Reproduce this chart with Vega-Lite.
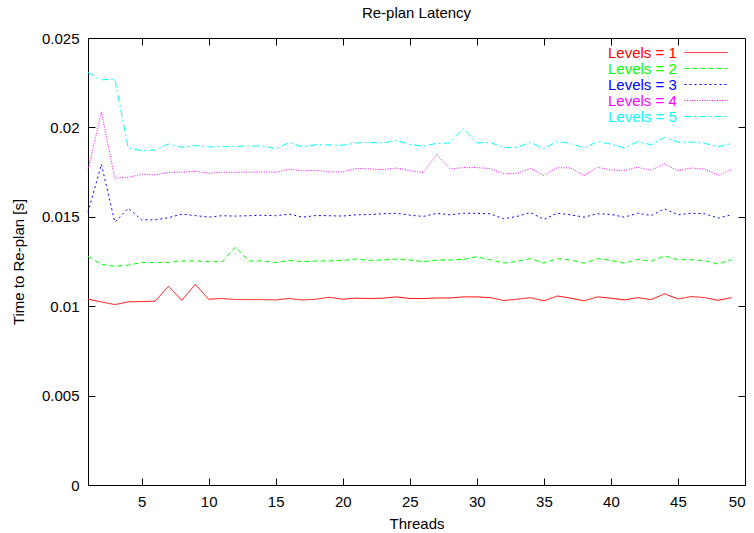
{
  "$schema": "https://vega.github.io/schema/vega-lite/v6.json",
  "width": 657,
  "height": 447,
  "autosize": "none",
  "padding": {"left": 88, "top": 38, "right": 9, "bottom": 48},
  "background": "white",
  "title": {"text": "Re-plan Latency", "fontSize": 15, "font": "Liberation Sans", "fontWeight": "normal", "color": "black", "offset": 10},
  "config": {
    "view": {"stroke": "black", "strokeWidth": 1},
    "axis": {"grid": false, "domainColor": "black", "domainWidth": 1, "tickColor": "black", "tickWidth": 1, "tickSize": -7, "labelPadding": 16,
      "labelFont": "Liberation Sans", "labelFontSize": 15, "labelColor": "black",
      "titleFont": "Liberation Sans", "titleFontSize": 15, "titleFontWeight": "normal", "titleColor": "black"},
    "legend": {"rowPadding": -3}
  },
  "data": {"values": [
    {"threads":1,"series":"Levels = 1","time":0.01039},{"threads":2,"series":"Levels = 1","time":0.01024},{"threads":3,"series":"Levels = 1","time":0.01009},{"threads":4,"series":"Levels = 1","time":0.01024},{"threads":5,"series":"Levels = 1","time":0.01026},{"threads":6,"series":"Levels = 1","time":0.01028},{"threads":7,"series":"Levels = 1","time":0.01111},{"threads":8,"series":"Levels = 1","time":0.01033},{"threads":9,"series":"Levels = 1","time":0.01122},{"threads":10,"series":"Levels = 1","time":0.01039},
    {"threads":11,"series":"Levels = 1","time":0.01043},{"threads":12,"series":"Levels = 1","time":0.01037},{"threads":13,"series":"Levels = 1","time":0.01037},{"threads":14,"series":"Levels = 1","time":0.01037},{"threads":15,"series":"Levels = 1","time":0.01035},{"threads":16,"series":"Levels = 1","time":0.01043},{"threads":17,"series":"Levels = 1","time":0.01035},{"threads":18,"series":"Levels = 1","time":0.01039},{"threads":19,"series":"Levels = 1","time":0.0105},{"threads":20,"series":"Levels = 1","time":0.01039},
    {"threads":21,"series":"Levels = 1","time":0.01045},{"threads":22,"series":"Levels = 1","time":0.01043},{"threads":23,"series":"Levels = 1","time":0.01045},{"threads":24,"series":"Levels = 1","time":0.01052},{"threads":25,"series":"Levels = 1","time":0.01043},{"threads":26,"series":"Levels = 1","time":0.01043},{"threads":27,"series":"Levels = 1","time":0.01046},{"threads":28,"series":"Levels = 1","time":0.01046},{"threads":29,"series":"Levels = 1","time":0.01052},{"threads":30,"series":"Levels = 1","time":0.01052},
    {"threads":31,"series":"Levels = 1","time":0.01048},{"threads":32,"series":"Levels = 1","time":0.01032},{"threads":33,"series":"Levels = 1","time":0.01039},{"threads":34,"series":"Levels = 1","time":0.01048},{"threads":35,"series":"Levels = 1","time":0.0103},{"threads":36,"series":"Levels = 1","time":0.01057},{"threads":37,"series":"Levels = 1","time":0.01045},{"threads":38,"series":"Levels = 1","time":0.0103},{"threads":39,"series":"Levels = 1","time":0.01052},{"threads":40,"series":"Levels = 1","time":0.01045},
    {"threads":41,"series":"Levels = 1","time":0.01035},{"threads":42,"series":"Levels = 1","time":0.01048},{"threads":43,"series":"Levels = 1","time":0.01037},{"threads":44,"series":"Levels = 1","time":0.01069},{"threads":45,"series":"Levels = 1","time":0.01041},{"threads":46,"series":"Levels = 1","time":0.01054},{"threads":47,"series":"Levels = 1","time":0.01048},{"threads":48,"series":"Levels = 1","time":0.01033},{"threads":49,"series":"Levels = 1","time":0.01048},

    {"threads":1,"series":"Levels = 2","time":0.01279},{"threads":2,"series":"Levels = 2","time":0.01233},{"threads":3,"series":"Levels = 2","time":0.01223},{"threads":4,"series":"Levels = 2","time":0.0123},{"threads":5,"series":"Levels = 2","time":0.01244},{"threads":6,"series":"Levels = 2","time":0.01245},{"threads":7,"series":"Levels = 2","time":0.01245},{"threads":8,"series":"Levels = 2","time":0.01253},{"threads":9,"series":"Levels = 2","time":0.01253},{"threads":10,"series":"Levels = 2","time":0.01249},
    {"threads":11,"series":"Levels = 2","time":0.01249},{"threads":12,"series":"Levels = 2","time":0.01331},{"threads":13,"series":"Levels = 2","time":0.01253},{"threads":14,"series":"Levels = 2","time":0.01253},{"threads":15,"series":"Levels = 2","time":0.01244},{"threads":16,"series":"Levels = 2","time":0.01256},{"threads":17,"series":"Levels = 2","time":0.01249},{"threads":18,"series":"Levels = 2","time":0.01253},{"threads":19,"series":"Levels = 2","time":0.01253},{"threads":20,"series":"Levels = 2","time":0.01256},
    {"threads":21,"series":"Levels = 2","time":0.01264},{"threads":22,"series":"Levels = 2","time":0.01256},{"threads":23,"series":"Levels = 2","time":0.01258},{"threads":24,"series":"Levels = 2","time":0.01264},{"threads":25,"series":"Levels = 2","time":0.01258},{"threads":26,"series":"Levels = 2","time":0.01249},{"threads":27,"series":"Levels = 2","time":0.01258},{"threads":28,"series":"Levels = 2","time":0.01258},{"threads":29,"series":"Levels = 2","time":0.01262},{"threads":30,"series":"Levels = 2","time":0.01277},
    {"threads":31,"series":"Levels = 2","time":0.0126},{"threads":32,"series":"Levels = 2","time":0.01241},{"threads":33,"series":"Levels = 2","time":0.01251},{"threads":34,"series":"Levels = 2","time":0.01266},{"threads":35,"series":"Levels = 2","time":0.01241},{"threads":36,"series":"Levels = 2","time":0.01266},{"threads":37,"series":"Levels = 2","time":0.01258},{"threads":38,"series":"Levels = 2","time":0.01241},{"threads":39,"series":"Levels = 2","time":0.01266},{"threads":40,"series":"Levels = 2","time":0.01256},
    {"threads":41,"series":"Levels = 2","time":0.0124},{"threads":42,"series":"Levels = 2","time":0.01262},{"threads":43,"series":"Levels = 2","time":0.01251},{"threads":44,"series":"Levels = 2","time":0.01281},{"threads":45,"series":"Levels = 2","time":0.0126},{"threads":46,"series":"Levels = 2","time":0.0126},{"threads":47,"series":"Levels = 2","time":0.01255},{"threads":48,"series":"Levels = 2","time":0.01236},{"threads":49,"series":"Levels = 2","time":0.0126},

    {"threads":1,"series":"Levels = 3","time":0.01526},{"threads":2,"series":"Levels = 3","time":0.01794},{"threads":3,"series":"Levels = 3","time":0.0147},{"threads":4,"series":"Levels = 3","time":0.01548},{"threads":5,"series":"Levels = 3","time":0.01483},{"threads":6,"series":"Levels = 3","time":0.01483},{"threads":7,"series":"Levels = 3","time":0.01495},{"threads":8,"series":"Levels = 3","time":0.01515},{"threads":9,"series":"Levels = 3","time":0.01507},{"threads":10,"series":"Levels = 3","time":0.01498},
    {"threads":11,"series":"Levels = 3","time":0.01506},{"threads":12,"series":"Levels = 3","time":0.01504},{"threads":13,"series":"Levels = 3","time":0.01506},{"threads":14,"series":"Levels = 3","time":0.01509},{"threads":15,"series":"Levels = 3","time":0.01506},{"threads":16,"series":"Levels = 3","time":0.01515},{"threads":17,"series":"Levels = 3","time":0.01498},{"threads":18,"series":"Levels = 3","time":0.01507},{"threads":19,"series":"Levels = 3","time":0.01506},{"threads":20,"series":"Levels = 3","time":0.01504},
    {"threads":21,"series":"Levels = 3","time":0.01511},{"threads":22,"series":"Levels = 3","time":0.01513},{"threads":23,"series":"Levels = 3","time":0.01517},{"threads":24,"series":"Levels = 3","time":0.0152},{"threads":25,"series":"Levels = 3","time":0.01509},{"threads":26,"series":"Levels = 3","time":0.01502},{"threads":27,"series":"Levels = 3","time":0.01519},{"threads":28,"series":"Levels = 3","time":0.01511},{"threads":29,"series":"Levels = 3","time":0.0152},{"threads":30,"series":"Levels = 3","time":0.01519},
    {"threads":31,"series":"Levels = 3","time":0.01517},{"threads":32,"series":"Levels = 3","time":0.01489},{"threads":33,"series":"Levels = 3","time":0.01502},{"threads":34,"series":"Levels = 3","time":0.01524},{"threads":35,"series":"Levels = 3","time":0.01485},{"threads":36,"series":"Levels = 3","time":0.0152},{"threads":37,"series":"Levels = 3","time":0.01511},{"threads":38,"series":"Levels = 3","time":0.01498},{"threads":39,"series":"Levels = 3","time":0.01517},{"threads":40,"series":"Levels = 3","time":0.01513},
    {"threads":41,"series":"Levels = 3","time":0.01498},{"threads":42,"series":"Levels = 3","time":0.0152},{"threads":43,"series":"Levels = 3","time":0.01507},{"threads":44,"series":"Levels = 3","time":0.01545},{"threads":45,"series":"Levels = 3","time":0.01511},{"threads":46,"series":"Levels = 3","time":0.0152},{"threads":47,"series":"Levels = 3","time":0.01517},{"threads":48,"series":"Levels = 3","time":0.01493},{"threads":49,"series":"Levels = 3","time":0.01511},

    {"threads":1,"series":"Levels = 4","time":0.0176},{"threads":2,"series":"Levels = 4","time":0.02087},{"threads":3,"series":"Levels = 4","time":0.01716},{"threads":4,"series":"Levels = 4","time":0.01721},{"threads":5,"series":"Levels = 4","time":0.01738},{"threads":6,"series":"Levels = 4","time":0.01734},{"threads":7,"series":"Levels = 4","time":0.01749},{"threads":8,"series":"Levels = 4","time":0.01749},{"threads":9,"series":"Levels = 4","time":0.01755},{"threads":10,"series":"Levels = 4","time":0.01743},
    {"threads":11,"series":"Levels = 4","time":0.01749},{"threads":12,"series":"Levels = 4","time":0.01749},{"threads":13,"series":"Levels = 4","time":0.01749},{"threads":14,"series":"Levels = 4","time":0.01751},{"threads":15,"series":"Levels = 4","time":0.01749},{"threads":16,"series":"Levels = 4","time":0.01766},{"threads":17,"series":"Levels = 4","time":0.01757},{"threads":18,"series":"Levels = 4","time":0.0176},{"threads":19,"series":"Levels = 4","time":0.01751},{"threads":20,"series":"Levels = 4","time":0.01751},
    {"threads":21,"series":"Levels = 4","time":0.01771},{"threads":22,"series":"Levels = 4","time":0.01768},{"threads":23,"series":"Levels = 4","time":0.01764},{"threads":24,"series":"Levels = 4","time":0.01773},{"threads":25,"series":"Levels = 4","time":0.01758},{"threads":26,"series":"Levels = 4","time":0.01747},{"threads":27,"series":"Levels = 4","time":0.01849},{"threads":28,"series":"Levels = 4","time":0.01768},{"threads":29,"series":"Levels = 4","time":0.01775},{"threads":30,"series":"Levels = 4","time":0.01775},
    {"threads":31,"series":"Levels = 4","time":0.0177},{"threads":32,"series":"Levels = 4","time":0.0174},{"threads":33,"series":"Levels = 4","time":0.01743},{"threads":34,"series":"Levels = 4","time":0.0177},{"threads":35,"series":"Levels = 4","time":0.01732},{"threads":36,"series":"Levels = 4","time":0.01775},{"threads":37,"series":"Levels = 4","time":0.01773},{"threads":38,"series":"Levels = 4","time":0.01731},{"threads":39,"series":"Levels = 4","time":0.01777},{"threads":40,"series":"Levels = 4","time":0.01762},
    {"threads":41,"series":"Levels = 4","time":0.01758},{"threads":42,"series":"Levels = 4","time":0.01777},{"threads":43,"series":"Levels = 4","time":0.0176},{"threads":44,"series":"Levels = 4","time":0.01796},{"threads":45,"series":"Levels = 4","time":0.01758},{"threads":46,"series":"Levels = 4","time":0.01773},{"threads":47,"series":"Levels = 4","time":0.01766},{"threads":48,"series":"Levels = 4","time":0.01732},{"threads":49,"series":"Levels = 4","time":0.01764},

    {"threads":1,"series":"Levels = 5","time":0.02307},{"threads":2,"series":"Levels = 5","time":0.02266},{"threads":3,"series":"Levels = 5","time":0.0227},{"threads":4,"series":"Levels = 5","time":0.01885},{"threads":5,"series":"Levels = 5","time":0.0187},{"threads":6,"series":"Levels = 5","time":0.01874},{"threads":7,"series":"Levels = 5","time":0.01907},{"threads":8,"series":"Levels = 5","time":0.01889},{"threads":9,"series":"Levels = 5","time":0.01898},{"threads":10,"series":"Levels = 5","time":0.01891},
    {"threads":11,"series":"Levels = 5","time":0.01892},{"threads":12,"series":"Levels = 5","time":0.01894},{"threads":13,"series":"Levels = 5","time":0.01896},{"threads":14,"series":"Levels = 5","time":0.01896},{"threads":15,"series":"Levels = 5","time":0.01881},{"threads":16,"series":"Levels = 5","time":0.01915},{"threads":17,"series":"Levels = 5","time":0.01892},{"threads":18,"series":"Levels = 5","time":0.01903},{"threads":19,"series":"Levels = 5","time":0.01902},{"threads":20,"series":"Levels = 5","time":0.019},
    {"threads":21,"series":"Levels = 5","time":0.01913},{"threads":22,"series":"Levels = 5","time":0.01916},{"threads":23,"series":"Levels = 5","time":0.01913},{"threads":24,"series":"Levels = 5","time":0.01926},{"threads":25,"series":"Levels = 5","time":0.01905},{"threads":26,"series":"Levels = 5","time":0.01894},{"threads":27,"series":"Levels = 5","time":0.01911},{"threads":28,"series":"Levels = 5","time":0.01913},{"threads":29,"series":"Levels = 5","time":0.01994},{"threads":30,"series":"Levels = 5","time":0.01913},
    {"threads":31,"series":"Levels = 5","time":0.01916},{"threads":32,"series":"Levels = 5","time":0.01887},{"threads":33,"series":"Levels = 5","time":0.01889},{"threads":34,"series":"Levels = 5","time":0.01916},{"threads":35,"series":"Levels = 5","time":0.01881},{"threads":36,"series":"Levels = 5","time":0.01922},{"threads":37,"series":"Levels = 5","time":0.01909},{"threads":38,"series":"Levels = 5","time":0.01885},{"threads":39,"series":"Levels = 5","time":0.0192},{"threads":40,"series":"Levels = 5","time":0.01907},
    {"threads":41,"series":"Levels = 5","time":0.01885},{"threads":42,"series":"Levels = 5","time":0.0192},{"threads":43,"series":"Levels = 5","time":0.01903},{"threads":44,"series":"Levels = 5","time":0.01944},{"threads":45,"series":"Levels = 5","time":0.01918},{"threads":46,"series":"Levels = 5","time":0.01918},{"threads":47,"series":"Levels = 5","time":0.01911},{"threads":48,"series":"Levels = 5","time":0.01892},{"threads":49,"series":"Levels = 5","time":0.01911}
  ]},
  "layer": [
    {
      "mark": {"type": "line", "strokeWidth": 1},
      "encoding": {
        "x": {"field": "threads", "type": "quantitative", "scale": {"domain": [1, 50], "nice": false, "zero": false},
              "axis": {"values": [5, 10, 15, 20, 25, 30, 35, 40, 45, 50], "format": "d", "title": "Threads", "titlePadding": 7}},
        "y": {"field": "time", "type": "quantitative", "scale": {"domain": [0, 0.025], "nice": false},
              "axis": {"values": [0, 0.005, 0.01, 0.015, 0.02, 0.025], "format": "~g", "title": "Time to Re-plan [s]", "titlePadding": 15}},
        "color": {"field": "series", "type": "nominal",
          "scale": {"domain": ["Levels = 1", "Levels = 2", "Levels = 3", "Levels = 4", "Levels = 5"], "range": ["#ff0000", "#00ff00", "#0000ff", "#ff00ff", "#00ffff"]},
          "legend": {"title": null, "orient": "none", "legendX": 520, "legendY": 7, "padding": 0,
            "symbolType": "M-3.31,0H3.31", "symbolSize": 169, "symbolStrokeWidth": 1,
            "labelFont": "Liberation Sans", "labelFontSize": 15, "labelLimit": 0, "rowPadding": -3,
            "encode": {
              "symbols": {"update": {"x": {"value": 98}}},
              "labels": {"update": {"x": {"value": 0}, "align": {"value": "left"}, "fill": {"signal": "scale('color', datum.value)"}}}
            }}},
        "strokeDash": {"field": "series", "type": "nominal",
          "scale": {"domain": ["Levels = 1", "Levels = 2", "Levels = 3", "Levels = 4", "Levels = 5"], "range": [[1, 0], [5, 3], [2, 3], [1, 1.5], [7, 3, 2, 3]]}}
      }
    },
    {
      "mark": {"type": "line", "strokeOpacity": 0},
      "encoding": {
        "x": {"field": "threads", "type": "quantitative", "axis": {"orient": "top", "values": [5, 10, 15, 20, 25, 30, 35, 40, 45], "labels": false, "title": null, "domain": false}},
        "y": {"field": "time", "type": "quantitative", "axis": {"orient": "right", "values": [0.005, 0.01, 0.015, 0.02], "labels": false, "title": null, "domain": false}},
        "detail": {"field": "series"}
      }
    }
  ],
  "resolve": {"axis": {"x": "independent", "y": "independent"}}
}
